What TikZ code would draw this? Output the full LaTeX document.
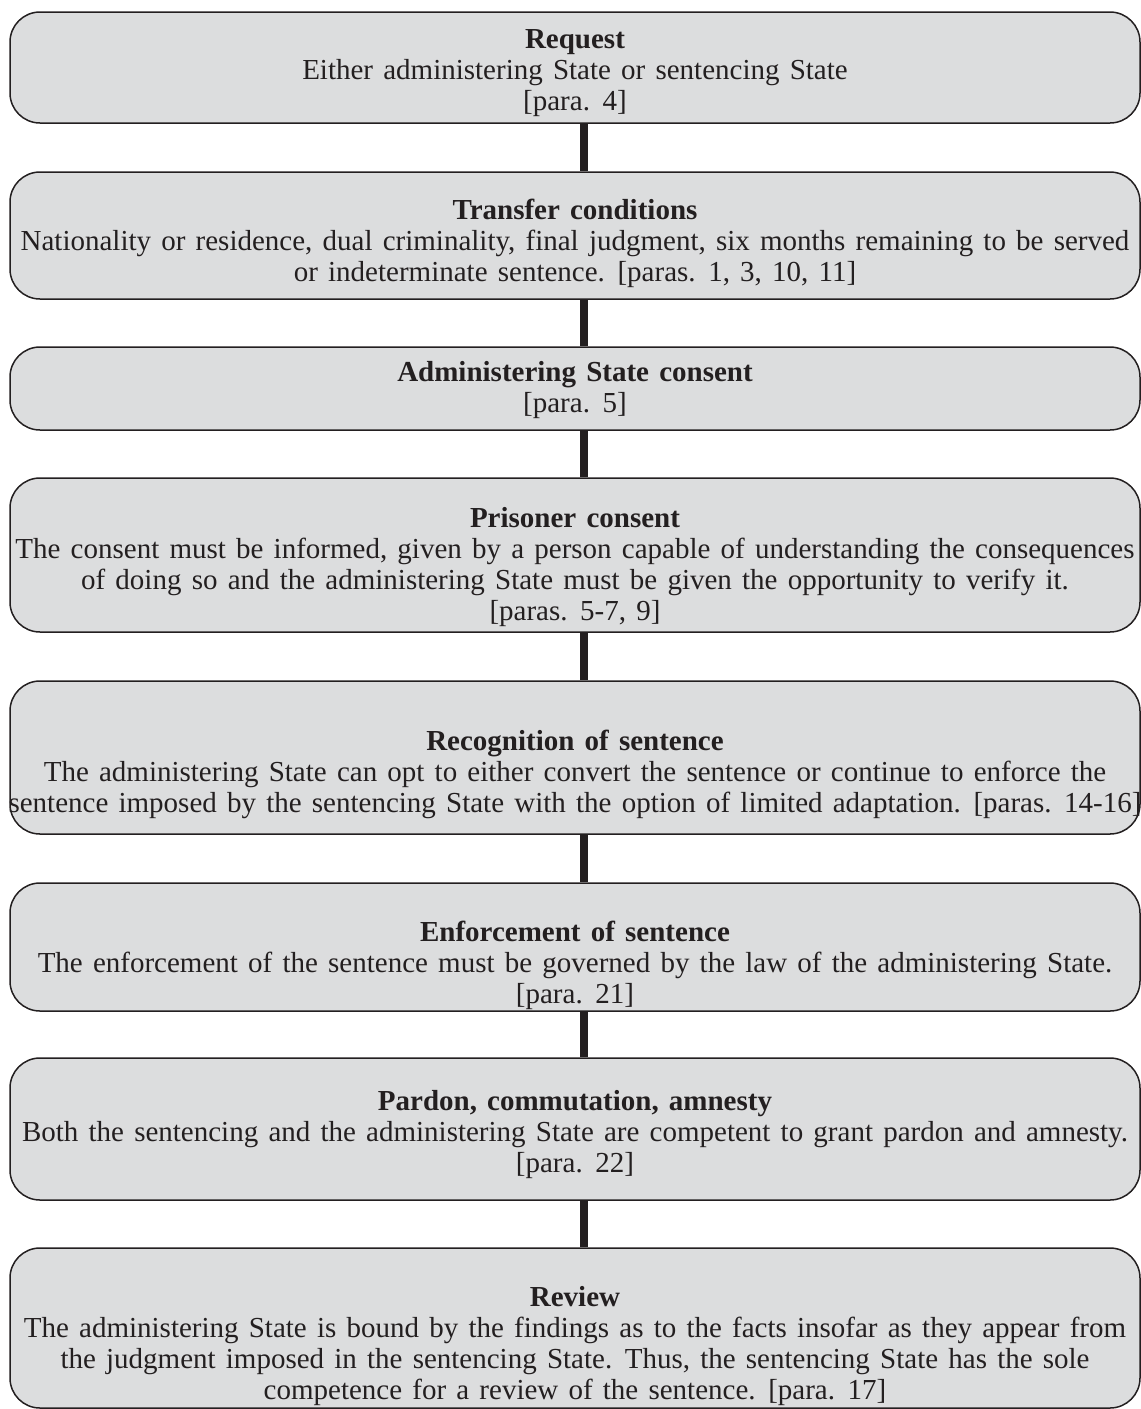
\documentclass[tikz,border=0pt]{standalone}
\usepackage{fontspec}
\setmainfont{Liberation Serif}
\definecolor{boxfill}{HTML}{DCDDDE}
\definecolor{ink}{HTML}{231F20}
\newcommand\myboxfont{\fontsize{14.5pt}{15.5pt}\selectfont\spaceskip 5.1pt plus 1pt minus 1pt\relax}
\begin{document}
\begin{tikzpicture}[x=0.5pt,y=-0.5pt,
  stepbox/.style={draw=ink, line width=0.75pt, fill=boxfill, rounded corners=15pt,
    minimum width=565pt, inner sep=0pt, rectangle},
  boxtext/.style={align=center, text=ink, inner sep=0pt, font=\myboxfont},
  conn/.style={draw=ink, line width=3.6pt}]
\useasboundingbox (0,0) rectangle (1141,1409);
\coordinate (cx) at (584,0);
\node[stepbox, minimum height=55.5pt] (b1) at (575,67.5) {};
\node[stepbox, minimum height=63.5pt] (b2) at (575,235.5) {};
\node[stepbox, minimum height=41.5pt] (b3) at (575,388.5) {};
\node[stepbox, minimum height=77pt] (b4) at (575,555) {};
\node[stepbox, minimum height=76.5pt] (b5) at (575,757.5) {};
\node[stepbox, minimum height=64pt] (b6) at (575,947) {};
\node[stepbox, minimum height=71pt] (b7) at (575,1129) {};
\node[stepbox, minimum height=80pt] (b8) at (575,1328) {};

\node[boxtext] (t1) at (575,73) {\textbf{Request}\\Either administering State or sentencing State\\{[}para. 4{]}};
\node[boxtext] (t2) at (575,243) {\textbf{Transfer conditions}\\Nationality or residence, dual criminality, final judgment, six months remaining to be served\\or indeterminate sentence. {[}paras. 1, 3, 10, 11{]}};
\node[boxtext] (t3) at (575,390) {\textbf{Administering State consent}\\{[}para. 5{]}};
\node[boxtext] (t4) at (575,567.5) {\textbf{Prisoner consent}\\The consent must be informed, given by a person capable of understanding the consequences\\of doing so and the administering State must be given the opportunity to verify it.\\{[}paras. 5-7, 9{]}};
\node[boxtext] (t5) at (575,774) {\textbf{Recognition of sentence}\\The administering State can opt to either convert the sentence or continue to enforce the\\sentence imposed by the sentencing State with the option of limited adaptation. {[}paras. 14-16{]}};
\node[boxtext] (t6) at (575,965) {\textbf{Enforcement of sentence}\\The enforcement of the sentence must be governed by the law of the administering State.\\{[}para. 21{]}};
\node[boxtext] (t7) at (575,1135) {\textbf{Pardon, commutation, amnesty}\\Both the sentencing and the administering State are competent to grant pardon and amnesty.\\{[}para. 22{]}};
\node[boxtext] (t8) at (575,1346) {\textbf{Review}\\The administering State is bound by the findings as to the facts insofar as they appear from\\the judgment imposed in the sentencing State. Thus, the sentencing State has the sole\\competence for a review of the sentence. {[}para. 17{]}};

\draw[conn] (b1.south -| cx) -- (b2.north -| cx);
\draw[conn] (b2.south -| cx) -- (b3.north -| cx);
\draw[conn] (b3.south -| cx) -- (b4.north -| cx);
\draw[conn] (b4.south -| cx) -- (b5.north -| cx);
\draw[conn] (b5.south -| cx) -- (b6.north -| cx);
\draw[conn] (b6.south -| cx) -- (b7.north -| cx);
\draw[conn] (b7.south -| cx) -- (b8.north -| cx);
\end{tikzpicture}
\end{document}
